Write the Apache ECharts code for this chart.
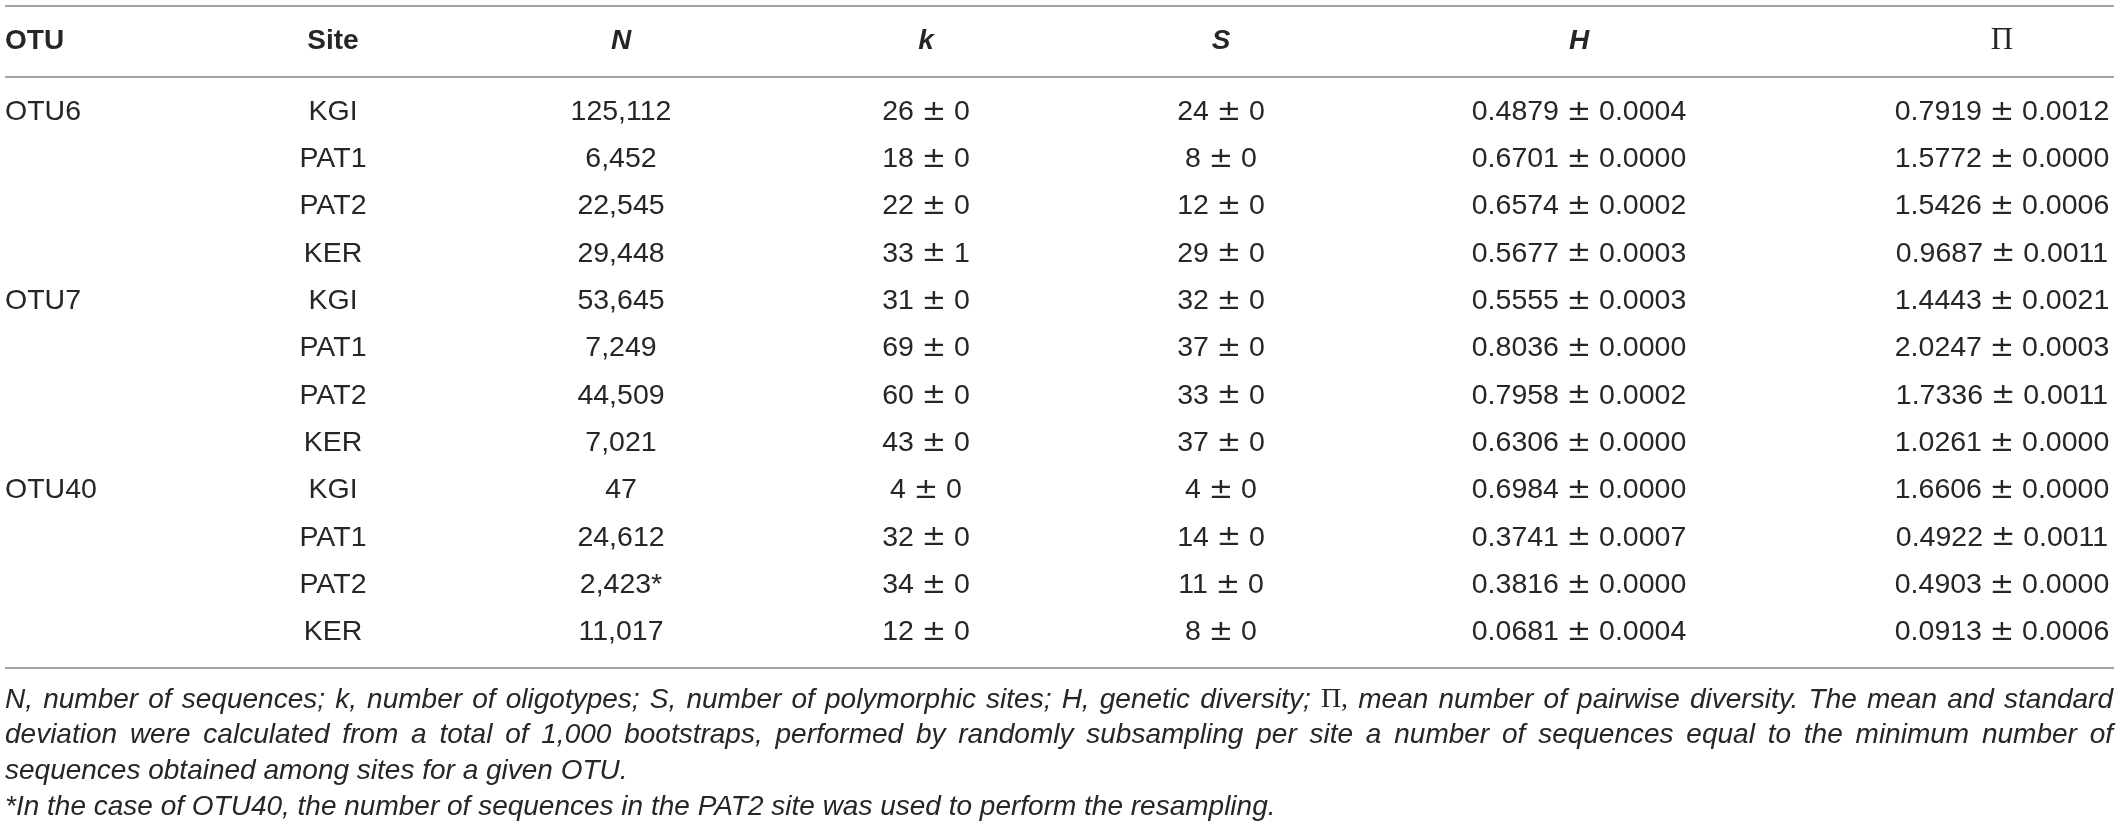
<!DOCTYPE html>
<html>
<head>
<meta charset="utf-8">
<script src="https://cdn.jsdelivr.net/npm/echarts@6/dist/echarts.min.js"></script>
<style>
  html, body { margin: 0; padding: 0; background: #fff; }
  #main { width: 2120px; height: 829px; }
</style>
</head>
<body>
<div id="main"></div>
<script>
// table values, one array per column
var headers = ['OTU', 'Site', 'N', 'k', 'S', 'H', 'Π']
var otus = ['OTU6', '', '', '', 'OTU7', '', '', '', 'OTU40', '', '', '']
var sites = ['KGI', 'PAT1', 'PAT2', 'KER', 'KGI', 'PAT1', 'PAT2', 'KER', 'KGI', 'PAT1', 'PAT2', 'KER']
var seqCount = [125112, 6452, 22545, 29448, 53645, 7249, 44509, 7021, 47, 24612, 2423, 11017]
var seqMark = ['', '', '', '', '', '', '', '', '', '', '*', '']
var kMean = [26, 18, 22, 33, 31, 69, 60, 43, 4, 32, 34, 12]
var kSd = [0, 0, 0, 1, 0, 0, 0, 0, 0, 0, 0, 0]
var sMean = [24, 8, 12, 29, 32, 37, 33, 37, 4, 14, 11, 8]
var sSd = [0, 0, 0, 0, 0, 0, 0, 0, 0, 0, 0, 0]
var hMean = [0.4879, 0.6701, 0.6574, 0.5677, 0.5555, 0.8036, 0.7958, 0.6306, 0.6984, 0.3741, 0.3816, 0.0681]
var hSd = [0.0004, 0.0000, 0.0002, 0.0003, 0.0003, 0.0000, 0.0002, 0.0000, 0.0000, 0.0007, 0.0000, 0.0004]
var piMean = [0.7919, 1.5772, 1.5426, 0.9687, 1.4443, 2.0247, 1.7336, 1.0261, 1.6606, 0.4922, 0.4903, 0.0913]
var piSd = [0.0012, 0.0000, 0.0006, 0.0011, 0.0021, 0.0003, 0.0011, 0.0000, 0.0000, 0.0011, 0.0000, 0.0006]

var notes = [
  'N, number of sequences; k, number of oligotypes; S, number of polymorphic sites; H, genetic diversity; Π, mean number of pairwise diversity. The mean and standard',
  'deviation were calculated from a total of 1,000 bootstraps, performed by randomly subsampling per site a number of sequences equal to the minimum number of',
  'sequences obtained among sites for a given OTU.',
  '*In the case of OTU40, the number of sequences in the PAT2 site was used to perform the resampling.'
]

// layout: column anchors on the x axis (0..2120), rows on a value y axis
var colX = [5, 333, 621, 926, 1221, 1579, 2002]
var rowStep = 47.3
var firstRowY = 112
var W = 2120, H = 829
var FONT = '"Liberation Sans", Arial, sans-serif'
var TEXT_COLOR = '#262626'
var CELL_SIZE = 28.5

function pm(m, s, d) {
  return '{v|' + m.toFixed(d) + '} {pm|±} {v|' + s.toFixed(d) + '}'
}

var cells = []
headers.forEach(function (h, c) { cells.push([c, -1.5, h, 'head']) })
for (var r = 0; r < sites.length; r++) {
  cells.push([0, r, otus[r], 'cell'])
  cells.push([1, r, sites[r], 'cell'])
  cells.push([2, r, seqCount[r].toLocaleString('en-US') + seqMark[r], 'cell'])
  cells.push([3, r, pm(kMean[r], kSd[r], 0), 'cell'])
  cells.push([4, r, pm(sMean[r], sSd[r], 0), 'cell'])
  cells.push([5, r, pm(hMean[r], hSd[r], 4), 'cell'])
  cells.push([6, r, pm(piMean[r], piSd[r], 4), 'cell'])
}

function cellFont(col, role) {
  if (role === 'cell') return CELL_SIZE + 'px ' + FONT
  if (col === 6) return '31px "Liberation Serif", "DejaVu Serif", serif'
  if (col >= 2) return 'italic bold 28px ' + FONT
  return 'bold 28px ' + FONT
}

var richStyles = {
  v: { font: CELL_SIZE + 'px ' + FONT, fill: TEXT_COLOR },
  pm: { font: '29px "DejaVu Sans", sans-serif', fill: TEXT_COLOR }
}

var yMin = -firstRowY / rowStep
var yMax = (H - firstRowY) / rowStep

// footnote, first two lines justified word by word
var ctx = document.createElement('canvas').getContext('2d')
var noteFont = 'italic 28px ' + FONT
var piFont = '28px "Liberation Serif", serif'
function wordFont(w) { return w.indexOf('Π') >= 0 ? piFont : noteFont }
function wordWidth(w) { ctx.font = wordFont(w); return ctx.measureText(w).width }

var noteY = [700, 735, 771, 807]
var graphics = []
;[6, 77, 668].forEach(function (y) {
  graphics.push({
    type: 'line', shape: { x1: 5, y1: y, x2: 2114, y2: y },
    style: { stroke: '#a3a3a3', lineWidth: 2 }
  })
})
notes.forEach(function (line, i) {
  var words = line.split(' ')
  var gap = wordWidth(' ')
  if (i < 2) {
    var total = 0
    words.forEach(function (w) { total += wordWidth(w) })
    gap = (2113 - 5 - total) / (words.length - 1)
  }
  var x = 5
  words.forEach(function (w) {
    graphics.push({
      type: 'text', x: x, y: noteY[i],
      style: { text: w, font: wordFont(w), fill: TEXT_COLOR, align: 'left', verticalAlign: 'middle' }
    })
    x += wordWidth(w) + gap
  })
})

var myChart = echarts.init(document.getElementById('main'))
var option = {
  animation: false,
  grid: { left: 0, right: 0, top: 0, bottom: 0 },
  xAxis: { type: 'value', min: 0, max: W, show: false },
  yAxis: { type: 'value', min: yMin, max: yMax, inverse: true, show: false },
  graphic: graphics,
  series: [
    {
      type: 'custom',
      data: cells,
      renderItem: function (params, api) {
        var col = api.value(0)
        var item = cells[params.dataIndex]
        var p = api.coord([colX[col], api.value(1)])
        return {
          type: 'text',
          x: p[0],
          y: p[1],
          style: {
            text: item[2],
            font: cellFont(col, item[3]),
            rich: richStyles,
            fill: TEXT_COLOR,
            align: col === 0 ? 'left' : 'center',
            verticalAlign: 'middle'
          }
        }
      }
    }
  ]
}
myChart.setOption(option)
</script>
</body>
</html>
